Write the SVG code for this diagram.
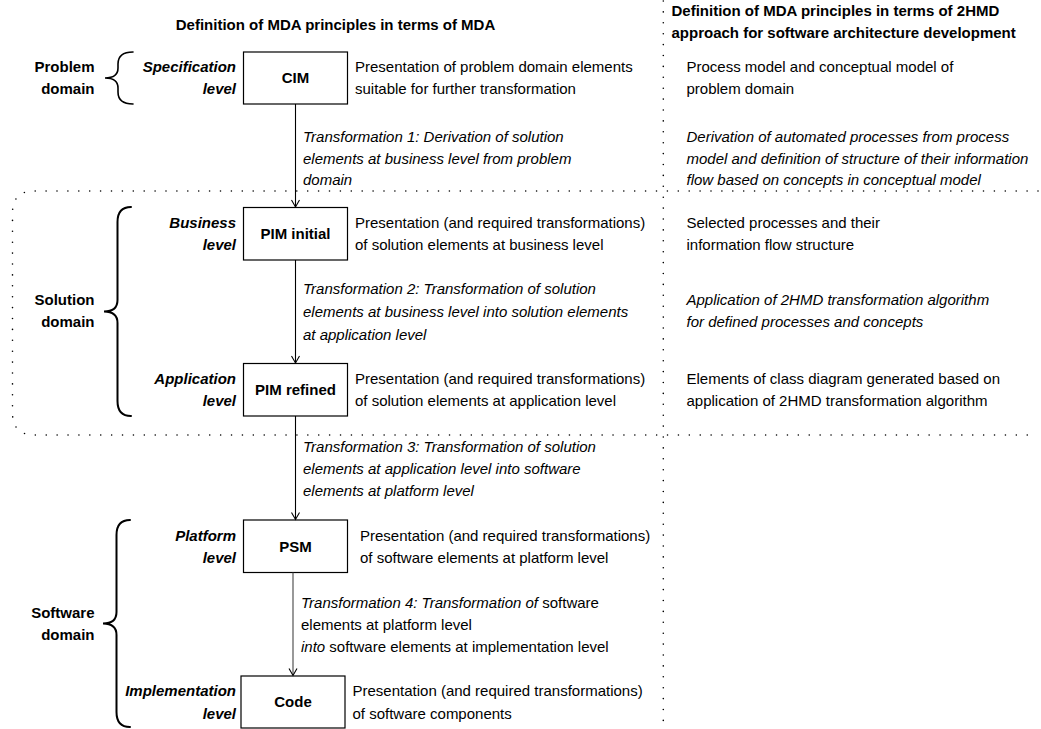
<svg xmlns="http://www.w3.org/2000/svg" width="1041" height="729" viewBox="0 0 1041 729">
<style>
text{font-family:"Liberation Sans",Arial,Helvetica,sans-serif;font-size:15px;fill:#000}
.b{font-weight:bold}
.bi{font-weight:bold;font-style:italic}
.i{font-style:italic}
.r{text-anchor:end}
.m{text-anchor:middle}
.box{fill:#fff;stroke:#000;stroke-width:1.2}
.dot{fill:none;stroke:#000;stroke-width:1.6;stroke-linecap:round;stroke-dasharray:0 10.9}
.brace{fill:none;stroke:#000;stroke-width:2;stroke-linecap:round}
.conn{fill:none;stroke:#000;stroke-width:1.1}
</style>
<defs>
<marker id="arr" markerUnits="userSpaceOnUse" markerWidth="12" markerHeight="12" refX="0" refY="0" viewBox="-9 -6 10 12" orient="auto" overflow="visible">
<path d="M-7,-4 L0,0 L-7,4" fill="none" stroke="#000" stroke-width="1.1"/>
</marker>
</defs>
<rect width="1041" height="729" fill="#fff"/>

<g id="regions">
<path class="dot" d="M663.3,1 V729"/>
<path class="dot" d="M1038,191 H34.5 Q12.5,191 12.5,213 V413 Q12.5,435 34.5,435 H1038"/>
</g>

<g id="headers">
<text class="b m" x="335.5" y="30">Definition of MDA principles in terms of MDA</text>
<text class="b" x="671.5" y="16">Definition of MDA principles in terms of 2HMD</text>
<text class="b" x="671.5" y="37.5">approach for software architecture development</text>
</g>

<g id="domains">
<text class="b r" x="94.5" y="72.4">Problem</text>
<text class="b r" x="94.5" y="94.4">domain</text>
<path class="brace" style="stroke-width:1.6" d="M133,52 Q118,52 118,64 L118,68 Q118,78 105,78 Q118,78 118,88 L118,92 Q118,104 133,104"/>
<text class="b r" x="94.5" y="305.4">Solution</text>
<text class="b r" x="94.5" y="327.4">domain</text>
<path class="brace" d="M131,207 Q117.5,207 117.5,222 L117.5,300 Q117.5,311.5 104,311.5 Q117.5,311.5 117.5,323 L117.5,401 Q117.5,416 131,416"/>
<text class="b r" x="94.5" y="618">Software</text>
<text class="b r" x="94.5" y="640">domain</text>
<path class="brace" d="M130,520 Q116.5,520 116.5,535 L116.5,612 Q116.5,623.5 103,623.5 Q116.5,623.5 116.5,635 L116.5,712 Q116.5,727 130,727"/>
</g>

<g id="cim">
<text class="bi r" x="236" y="72.4">Specification</text>
<text class="bi r" x="236" y="94.4">level</text>
<rect class="box" x="243.5" y="52" width="104" height="52"/>
<text class="b m" x="295.5" y="83.4">CIM</text>
<text x="355" y="72.4">Presentation of problem domain elements</text>
<text x="355" y="94.4">suitable for further transformation</text>
<text x="686.5" y="72.4">Process model and conceptual model of</text>
<text x="686.5" y="94.4">problem domain</text>
</g>

<g id="t1">
<text class="i" x="303" y="142">Transformation 1: Derivation of solution</text>
<text class="i" x="303" y="163.5">elements at business level from problem</text>
<text class="i" x="303" y="185">domain</text>
<text class="i" x="686.5" y="142">Derivation of automated processes from process</text>
<text class="i" x="686.5" y="163.5">model and definition of structure of their information</text>
<text class="i" x="686.5" y="185">flow based on concepts in conceptual model</text>
</g>

<g id="pim-initial">
<text class="bi r" x="236" y="228">Business</text>
<text class="bi r" x="236" y="250">level</text>
<rect class="box" x="243.5" y="207.5" width="104" height="52.5"/>
<text class="b m" x="295.5" y="239">PIM initial</text>
<text x="355" y="228">Presentation (and required transformations)</text>
<text x="355" y="250">of solution elements at business level</text>
<text x="686.5" y="228">Selected processes and their</text>
<text x="686.5" y="250">information flow structure</text>
</g>

<g id="t2">
<text class="i" x="303" y="294">Transformation 2: Transformation of solution</text>
<text class="i" x="303" y="316.5">elements at business level into solution elements</text>
<text class="i" x="303" y="339.5">at application level</text>
<text class="i" x="686.5" y="305.4">Application of 2HMD transformation algorithm</text>
<text class="i" x="686.5" y="327.4">for defined processes and concepts</text>
</g>

<g id="pim-refined">
<text class="bi r" x="236" y="384.4">Application</text>
<text class="bi r" x="236" y="406.4">level</text>
<rect class="box" x="243.5" y="363.5" width="104" height="52.5"/>
<text class="b m" x="295.5" y="395.4">PIM refined</text>
<text x="355" y="384.4">Presentation (and required transformations)</text>
<text x="355" y="406.4">of solution elements at application level</text>
<text x="686.5" y="384.4">Elements of class diagram generated based on</text>
<text x="686.5" y="406.4">application of 2HMD transformation algorithm</text>
</g>

<g id="t3">
<text class="i" x="303" y="452">Transformation 3: Transformation of solution</text>
<text class="i" x="303" y="474">elements at application level into software</text>
<text class="i" x="303" y="496">elements at platform level</text>
</g>

<g id="psm">
<text class="bi r" x="236" y="541">Platform</text>
<text class="bi r" x="236" y="563">level</text>
<rect class="box" x="243.5" y="520" width="104" height="52.5"/>
<text class="b m" x="295.5" y="552">PSM</text>
<text x="360" y="541">Presentation (and required transformations)</text>
<text x="360" y="563">of software elements at platform level</text>
</g>

<g id="t4">
<text x="301" y="608"><tspan class="i">Transformation 4: Transformation of </tspan>software</text>
<text x="301" y="630">elements at platform level</text>
<text x="301" y="652"><tspan class="i">into</tspan> software elements at implementation level</text>
</g>

<g id="code">
<text class="bi r" x="236" y="696">Implementation</text>
<text class="bi r" x="236" y="718.5">level</text>
<rect class="box" x="241" y="676" width="104" height="52"/>
<text class="b m" x="293" y="707.4">Code</text>
<text x="352.5" y="696">Presentation (and required transformations)</text>
<text x="352.5" y="718.5">of software components</text>
</g>

<g id="connectors">
<path class="conn" d="M295.5,104 V207" marker-end="url(#arr)"/>
<path class="conn" d="M295.5,260 V363" marker-end="url(#arr)"/>
<path class="conn" d="M295.5,416 V519.5" marker-end="url(#arr)"/>
<path class="conn" style="stroke:#444" d="M293,572.5 V675.5" marker-end="url(#arr)"/>
</g>
</svg>
